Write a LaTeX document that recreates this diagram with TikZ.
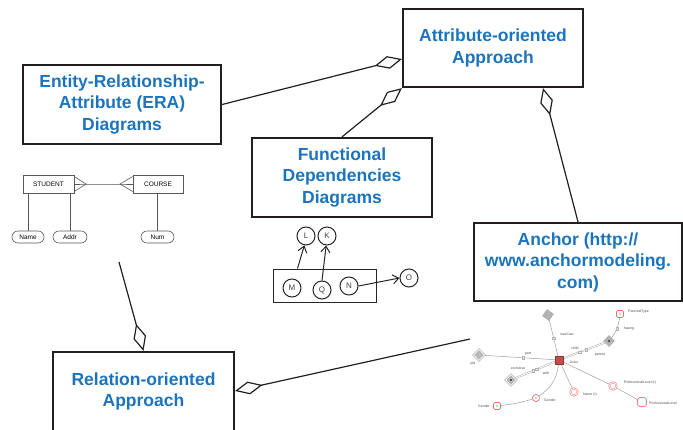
\documentclass[tikz,border=0pt]{standalone}
\usepackage{fontspec}
\setmainfont{Liberation Sans}
\usetikzlibrary{arrows.meta,calc,shapes.geometric}
\definecolor{boxblue}{RGB}{28,117,188}
\definecolor{boxline}{RGB}{35,31,32}
\definecolor{anchred}{RGB}{200,75,75}
\definecolor{pinkline}{RGB}{240,110,110}

\begin{document}
\begin{tikzpicture}[x=1pt,y=-1pt,
  mainbox/.style={draw=boxline, line width=2.2pt, fill=white, align=center,
    text=boxblue, font=\fontsize{17.5}{21.5}\selectfont\bfseries, inner sep=0pt},
  maintext/.style={align=center, text=boxblue,
    font=\fontsize{17.5}{21.5}\selectfont\bfseries, inner sep=0pt},
  agg/.style={line width=1.2pt, draw=boxline,
    -{Diamond[open,length=28pt,width=13pt,line width=1.2pt]}},
  erline/.style={draw=black!65, line width=0.6pt},
  erbox/.style={draw=black!65, line width=0.6pt, font=\fontsize{6.5}{7}\selectfont,
    inner sep=0pt, minimum height=18pt},
  erattr/.style={draw=black!65, line width=0.6pt, rounded corners=6pt,
    minimum height=12pt, inner sep=0pt, font=\fontsize{6.5}{7}\selectfont},
  fdcirc/.style={circle, draw=black!85, line width=1pt, minimum size=18pt,
    inner sep=0pt, font=\fontsize{8}{8}\selectfont, text=black!75},
  fdarr/.style={draw=black!85, line width=1pt,
    -{Straight Barb[length=6pt,width=9pt,line width=1pt]}},
  thline/.style={draw=gray!75, line width=0.5pt},
  thdouble/.style={draw=gray!75, line width=0.4pt, double=white, double distance=0.9pt},
  knob/.style={rectangle, draw=gray!60, fill=gray!15, line width=0.3pt,
    minimum size=2.6pt, inner sep=0pt},
  tie/.style={diamond, fill=gray!60, draw=gray!60, minimum size=11pt, inner sep=0pt},
  tieo/.style={diamond, fill=gray!55, draw=gray!65, line width=0.4pt,
    double=white, double distance=0.8pt, minimum size=11pt, inner sep=0pt},
  knot/.style={rectangle, rounded corners=1.5pt, draw=pinkline, fill=white,
    line width=0.6pt, minimum size=7pt, inner sep=0pt},
  knotc/.style={circle, draw=pinkline, fill=white, line width=0.6pt,
    minimum size=7pt, inner sep=0pt},
  attrc/.style={circle, draw=pinkline, line width=0.4pt, double=white,
    double distance=0.8pt, fill=white, minimum size=7pt, inner sep=0pt},
  tlabel/.style={font=\fontsize{3.5}{4}\selectfont, text=black!70, inner sep=0pt}
]
\useasboundingbox (0,0) rectangle (683,429);

% ---------- main concept boxes ----------
\node[mainbox, minimum width=180pt, minimum height=78pt] (attr) at (493,48)
  {Attribute-oriented\\Approach};
\node[mainbox, minimum width=198pt, minimum height=79pt] (era) at (122,104.5)
  {Entity-Relationship-\\Attribute (ERA)\\Diagrams};
\node[mainbox, minimum width=180pt, minimum height=79pt] (fd) at (342,177.5)
  {Functional\\Dependencies\\Diagrams};
\node[mainbox, minimum width=208pt, minimum height=78pt] (anch) at (578,262)
  {Anchor (http://\\www.anchormodeling.\\com)};
\node[mainbox, minimum width=181pt, minimum height=110pt] (rel) at (143.5,407) {};
\node[maintext] (reltext) at (143.5,391.5) {Relation-oriented\\Approach};

% ---------- aggregation connectors ----------
\draw[agg] (era.east) -- ($(attr.west)+(0,11)$);
\draw[agg] (fd.north) -- (attr.south west);
\draw[agg] (anch.north) -- ($(attr.south)+(50,0)$);
\coordinate (relfree) at (119,262);
\draw[agg] (relfree) -- (rel.north);
\coordinate (anchfree) at (470,339);
\draw[agg] (anchfree) -- ($(rel.east)+(0,-16)$);

% ---------- small ER example ----------
\node[erbox, minimum width=51pt] (student) at (48.5,184) {STUDENT};
\node[erbox, minimum width=50pt] (course) at (158,184) {COURSE};
\coordinate (sfoot) at (86,184);
\coordinate (cfoot) at (120,184);
\draw[erline] ($(student.east)+(0,-7.5)$) -- (sfoot) -- ($(student.east)+(0,7.5)$);
\draw[erline] (student.east) -- (sfoot) -- (cfoot) -- (course.west);
\draw[erline] ($(course.west)+(0,-7.5)$) -- (cfoot) -- ($(course.west)+(0,7.5)$);
\node[erattr, minimum width=32pt] (aname) at (28,237) {Name};
\node[erattr, minimum width=34pt] (aaddr) at (70,237) {Addr};
\node[erattr, minimum width=33pt] (anum) at (157.5,237) {Num};
\draw[erline] (aname.north |- student.south) -- (aname.north);
\draw[erline] (aaddr.north |- student.south) -- (aaddr.north);
\draw[erline] (anum.north |- course.south) -- (anum.north);

% ---------- functional dependency example ----------
\node[fdcirc] (L) at (306,236) {L};
\node[fdcirc] (K) at (327,236) {K};
\node[draw=black!85, line width=1pt, minimum width=103pt, minimum height=33pt,
  inner sep=0pt] (fdrect) at (324.5,285.5) {};
\node[fdcirc] (M) at (292,288) {M};
\node[fdcirc] (Q) at (322,290) {Q};
\node[fdcirc] (N) at (349,286) {N};
\node[fdcirc] (O) at (409,278) {O};
\draw[fdarr] ($(fdrect.north west)+(25,0)$) -- (L.260);
\draw[fdarr] (Q.north) -- (K.265);
\draw[fdarr] (N.east) -- (O.west);

% ---------- anchor model example ----------
\node[tie, rotate=10] (tcast) at (548,315) {};
\node[tieo] (tpart) at (479,355) {};
\node[tieo] (texcl) at (511,380) {};
\node[tie] (tpar) at (609,341) {};
\node[knot] (tptype) at (620,314) {};
\node[knotc] (tgender) at (536,398) {};
\node[knot] (tgbox) at (497,406) {};
\node[attrc] (tname) at (574,392) {};
\node[attrc] (tplevel) at (613,386) {};
\node[knot, minimum size=8.5pt] (tplbox) at (642,402) {};
\node[rectangle, fill=anchred, draw=anchred!70!black, line width=0.3pt,
  minimum size=8pt, inner sep=0pt] (actor) at (559,360) {};

\begin{scope}[on background layer/.style={}]
\draw[thline] (tcast) -- (actor) node[knob, pos=0.5] {};
\draw[thline] (tpart) -- (actor) node[knob, pos=0.55] {};
\draw[thdouble] (texcl) -- (actor) node[knob, pos=0.45] {} node[knob, pos=0.55] {};
\draw[thdouble] (tpar) -- (actor) node[knob, pos=0.45] {} node[knob, pos=0.6] {};
\draw[thline] (tpar) to[bend right=15] node[knob, pos=0.5] {} (tptype);
\draw[thline] (actor) to[bend left=25] (tgender);
\draw[thline] (tgender) to[bend left=5] (tgbox);
\draw[thline] (actor) -- (tname);
\draw[thline] (actor) -- (tplevel) -- (tplbox);
\end{scope}
% redraw shapes above their lines
\node[tie, rotate=10] at (tcast) {};
\node[tieo] at (tpart) {};
\node[tieo] at (texcl) {};
\node[tie] at (tpar) {};
\node[knot] at (tptype) {};
\node[knotc] at (tgender) {};
\node[knot] at (tgbox) {};
\node[attrc] at (tname) {};
\node[attrc] at (tplevel) {};
\node[knot, minimum size=8.5pt] at (tplbox) {};
\node[rectangle, fill=anchred, draw=anchred!70!black, line width=0.3pt,
  minimum size=8pt, inner sep=0pt] at (actor) {};
\fill[black!80] (texcl) circle (1.2pt);
\fill[black!80] (tpar) circle (1.2pt);
\fill[black!70] (tptype) circle (0.6pt);
\fill[black!70] (tgender) circle (0.6pt);
\fill[black!70] (tgbox) circle (0.6pt);

\node[tlabel] (lcast) at (567,334) {wasCast};
\node[tlabel] (lpart) at (528,354) {part};
\node[tlabel] (lpid) at (473,364) {pid};
\node[tlabel] (lexcl) at (518,368) {exclusive};
\node[tlabel] (lwith) at (546,373) {with};
\node[tlabel] (lchild) at (575,348) {child};
\node[tlabel] (lparent) at (600,355) {parent};
\node[tlabel] (lhaving) at (629,329) {having};
\node[tlabel, anchor=west] (lptype) at (628,312) {ParentalType};
\node[tlabel] (lactor) at (574,362) {Actor};
\node[tlabel] (lgen1) at (550,400) {Gender};
\node[tlabel] (lgen2) at (484,406) {Gender};
\node[tlabel] (lname) at (590,395) {Name (r)};
\node[tlabel] (lplr) at (640,383) {ProfessionalLevel (r)};
\node[tlabel, anchor=west] (lpl) at (649,403) {ProfessionalLevel};
\end{tikzpicture}
\end{document}
